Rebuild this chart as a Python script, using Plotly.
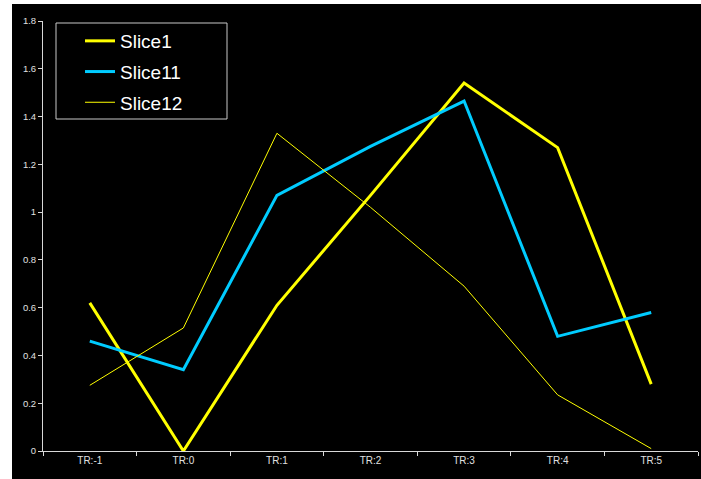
import plotly.graph_objects as go

# Category labels along the x axis
categories = ["TR:-1", "TR:0", "TR:1", "TR:2", "TR:3", "TR:4", "TR:5"]

# Series values
slice1 = [0.62, 0.00, 0.61, 1.07, 1.54, 1.27, 0.28]
slice11 = [0.46, 0.34, 1.07, 1.275, 1.465, 0.48, 0.58]
slice12 = [0.275, 0.515, 1.33, 1.02, 0.69, 0.235, 0.01]

# Y axis ticks
y_ticks = [0, 0.2, 0.4, 0.6, 0.8, 1, 1.2, 1.4, 1.6, 1.8]

FONT = "Arial, Liberation Sans, sans-serif"
AXIS_COLOR = "#d8d8d8"

fig = go.Figure()
fig.add_trace(go.Scatter(x=categories, y=slice1, name="Slice1", mode="lines",
                         line=dict(color="#ffff00", width=3), legendgroup="a"))
fig.add_trace(go.Scatter(x=categories, y=slice11, name="Slice11", mode="lines",
                         line=dict(color="#00ccff", width=3), legendgroup="b"))
fig.add_trace(go.Scatter(x=categories, y=slice12, name="Slice12", mode="lines",
                         line=dict(color="#ffff00", width=1), legendgroup="c"))

L, R, T, B = 43, 3, 21, 28
W, H = 701, 479
pw, ph = W - L - R, H - T - B

fig.update_layout(
    width=W, height=H,
    margin=dict(l=L, r=R, t=T, b=B, pad=0),
    paper_bgcolor="black",
    plot_bgcolor="black",
    font=dict(family=FONT, color="#e0e0e0"),
    showlegend=True,
    legend=dict(
        x=(80 - L) / pw, y=(H - B - 22) / ph, xanchor="left", yanchor="top",
        bgcolor="rgba(0,0,0,0)", borderwidth=0,
        font=dict(family=FONT, size=19, color="white"),
        tracegroupgap=3,
    ),
    shapes=[
        # white strips along the left and top edges of the page
        dict(type="rect", xref="paper", yref="paper", layer="below",
             x0=-L / pw, x1=(12 - L) / pw, y0=-B / ph, y1=(H - B) / ph,
             fillcolor="white", line=dict(width=0)),
        dict(type="rect", xref="paper", yref="paper", layer="below",
             x0=-L / pw, x1=1 + R / pw, y0=(H - B - 4) / ph, y1=(H - B) / ph,
             fillcolor="white", line=dict(width=0)),
        # legend frame
        dict(type="rect", xref="paper", yref="paper", layer="above",
             x0=(56 - L) / pw, x1=(227 - L) / pw,
             y0=(H - B - 119) / ph, y1=(H - B - 23) / ph,
             fillcolor="rgba(0,0,0,0)", line=dict(color="#c8c8c8", width=1)),
    ],
)

fig.update_xaxes(
    type="category", categoryorder="array", categoryarray=categories,
    range=[-0.5, len(categories) - 0.5],
    showgrid=False, zeroline=False,
    showline=True, linecolor=AXIS_COLOR, linewidth=1,
    ticks="outside", tickson="boundaries", ticklen=4, tickcolor=AXIS_COLOR,
    tickfont=dict(family=FONT, size=10, color="#e0e0e0"),
)
fig.update_yaxes(
    range=[0, 1.8], tickvals=y_ticks,
    ticktext=[f"{v:g}" for v in y_ticks],
    showgrid=False, zeroline=False,
    showline=True, linecolor=AXIS_COLOR, linewidth=1,
    ticks="outside", ticklen=4, tickcolor=AXIS_COLOR,
    tickfont=dict(family=FONT, size=9.5, color="#e0e0e0"),
)

fig.write_html("out.html")
